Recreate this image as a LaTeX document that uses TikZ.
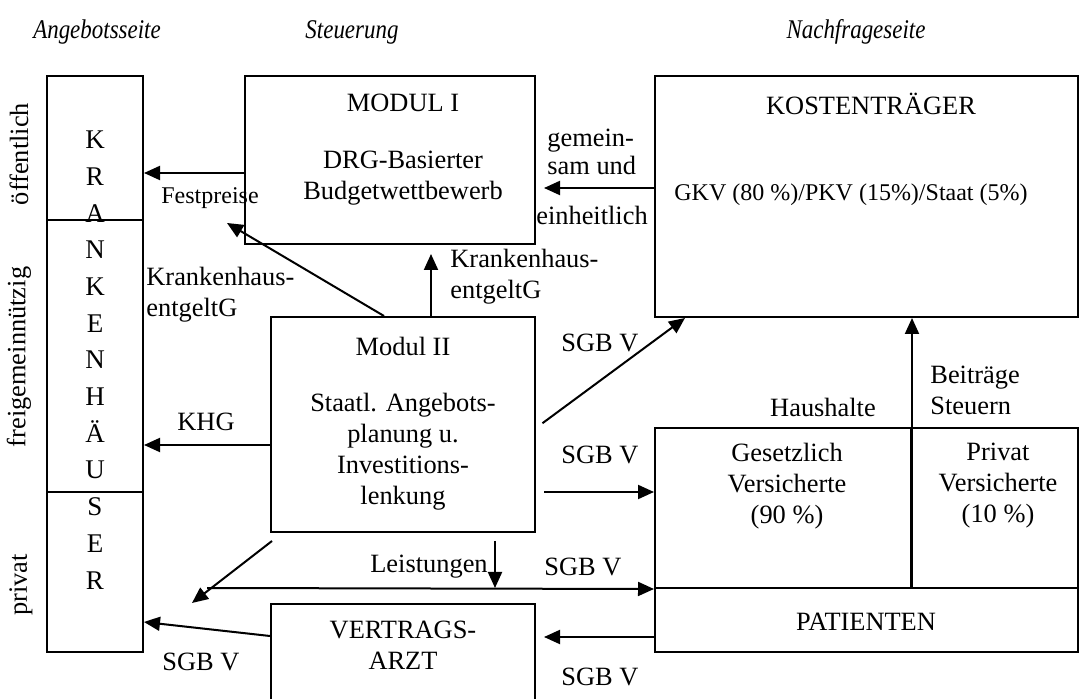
\documentclass[tikz,border=0pt]{standalone}
\usepackage{fontspec}
\setmainfont{Liberation Serif}
\usetikzlibrary{arrows.meta}
\newcommand{\lbf}{\fontsize{13.2pt}{15.5pt}\selectfont}
\newcommand{\smf}{\fontsize{12pt}{15.5pt}\selectfont}
\tikzset{
  box/.style={draw, line width=1pt, inner sep=0pt},
  arr/.style={-{Triangle[length=8pt,width=7pt]}, line width=1pt},
  lbl/.style={font=\lbf, inner sep=0pt, align=center},
  lbll/.style={font=\lbf, inner sep=0pt, align=left, anchor=west},
  hdr/.style={font=\fontsize{13.5pt}{15pt}\selectfont\itshape, inner sep=0pt, xscale=0.85},
}
\begin{document}
\begin{tikzpicture}[x=0.5pt,y=-0.5pt]
\clip (0,0) rectangle (1092,699);
\fill[white] (0,0) rectangle (1092,699);
% headers
\node[hdr] (h1) at (97,32) {Angebotsseite};
\node[hdr] (h2) at (352,32) {Steuerung};
\node[hdr] (h3) at (856,32) {Nachfrageseite};
% side labels
\node[lbl, rotate=90] (s1) at (19,154) {öffentlich};
\node[lbl, rotate=90] (s2) at (19,357) {freigemeinnützig};
\node[lbl, rotate=90] (s3) at (21,585) {privat};
% boxes
\node[box, minimum width=48pt, minimum height=288pt] (KH) at (95,364) {};
\draw[line width=1pt] (KH.west |- 0,220) -- (KH.east |- 0,220);
\draw[line width=1pt] (KH.west |- 0,492) -- (KH.east |- 0,492);
\node[lbl, font=\fontsize{13.5pt}{18.35pt}\selectfont] (KHt) at (95,360) {K\\R\\A\\N\\K\\E\\N\\H\\Ä\\U\\S\\E\\R};
\node[box, minimum width=145pt, minimum height=84pt] (M1) at (390,160) {};
\node[box, minimum width=211.5pt, minimum height=120.5pt] (KT) at (866.5,196.5) {};
\node[box, minimum width=132pt, minimum height=107.5pt] (M2) at (403,424.5) {};
\node[box, minimum width=132pt, minimum height=49pt] (VA) at (403,653) {};
\node[box, minimum width=128pt, minimum height=80pt] (GV) at (783,508) {};
\node[box, minimum width=83.5pt, minimum height=80pt] (PV) at (994.5,508) {};
\node[box, minimum width=211.5pt, minimum height=32pt] (PAT) at (866.5,620) {};
% box texts
\node[lbl] (m1a) at (403,103) {MODUL I};
\node[lbl] (m1b) at (403,178) {DRG-Basierter\\Budgetwettbewerb};
\node[lbl] (kta) at (871,104) {KOSTENTRÄGER};
\node[lbl, font=\smf] (ktb) at (851,195) {GKV (80 \%)/PKV (15\%)/Staat (5\%)};
\node[lbl] (m2a) at (403,346) {Modul II};
\node[lbl] (m2b) at (403,452) {Staatl. Angebots-\\planung u.\\Investitions-\\lenkung};
\node[lbl] (vat) at (403,645) {VERTRAGS-\\ARZT};
\node[lbl] (gvt) at (787,486) {Gesetzlich\\Versicherte\\(90 \%)};
\node[lbl] (pvt) at (998,486) {Privat\\Versicherte\\(10 \%)};
\node[lbl] (patt) at (866,622) {PATIENTEN};
% labels
\node[lbll, font=\fontsize{13.2pt}{14pt}\selectfont] (l1) at (547,152) {gemein-\\sam und};
\node[lbl] (l2) at (592,215) {einheitlich};
\node[lbl, font=\smf] (l3) at (210,198) {Festpreise};
\node[lbll] (l4) at (146,295) {Krankenhaus-\\entgeltG};
\node[lbll] (l5) at (450,277) {Krankenhaus-\\entgeltG};
\node[lbl] (l6) at (206,422) {KHG};
\node[lbl] (l7) at (600,343) {SGB V};
\node[lbl] (l8) at (600,455) {SGB V};
\node[lbl] (l9) at (429,567) {Leistungen};
\node[lbl] (l10) at (583,567) {SGB V};
\node[lbl] (l11) at (600,677) {SGB V};
\node[lbl] (l12) at (201,662) {SGB V};
\node[lbl] (l13) at (823,407) {Haushalte};
\node[lbll] (l14) at (930,390) {Beiträge\\Steuern};
% free coordinates
\coordinate (fp) at (227,223);
\coordinate (ls) at (207,588);
\coordinate (dl) at (192,603);
\coordinate (ds) at (272,541);
% arrows
\draw[arr, shorten >=4pt] (KT.west |- 0,188) -- (M1.east |- 0,188);
\draw[arr] (M1.west |- 0,173) -- (KH.east |- 0,173);
\draw[arr, shorten >=4.5pt] (M2.north -| 431,0) -- (M1.south -| 431,0);
\draw[arr] (M2.north -| 384,0) -- (fp);
\draw[arr] (M2.west |- 0,445) -- (KH.east |- 0,445);
\draw[arr, shorten <=4pt] (M2.east |- 0,428) -- (KT.south -| 685,0);
\draw[arr, shorten <=4pt] (M2.east |- 0,492) -- (GV.west |- 0,492);
\draw[arr] (GV.south east) -- (KT.south -| GV.east);
\draw[arr] (ls) -- (GV.south west);
\draw[arr, shorten <=4pt] (M2.south -| 495,0) -- (495,588);
\draw[arr] (ds) -- (dl);
\draw[arr, shorten >=4pt] (PAT.west |- 0,637) -- (VA.east |- 0,637);
\draw[arr] (VA.west |- 0,636) -- (KH.east |- 0,622);
\end{tikzpicture}
\end{document}
